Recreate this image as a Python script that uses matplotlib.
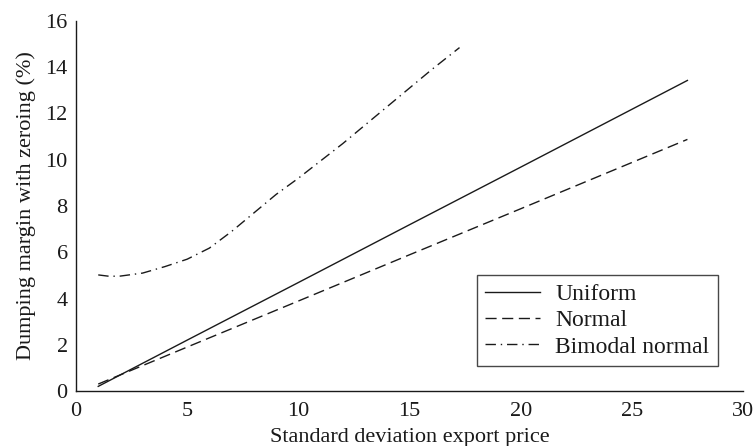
import matplotlib
matplotlib.use("Agg")
import matplotlib.pyplot as plt

plt.rcParams['font.family'] = ['Liberation Serif', 'DejaVu Serif']

# Data
sd_linear = [1, 5, 10, 15, 20, 25, 27.5]
uniform = [0.20, 2.20, 4.69, 7.19, 9.68, 12.18, 13.43]
normal = [0.30, 1.90, 3.89, 5.89, 7.88, 9.88, 10.88]

sd_bimodal = [1, 1.5, 2, 3, 4, 5, 6, 7, 8, 9, 10, 11, 12, 13, 14, 15, 16, 17.25]
bimodal = [5.02, 4.96, 4.97, 5.10, 5.38, 5.70, 6.18, 6.90, 7.70, 8.50,
           9.20, 9.95, 10.70, 11.50, 12.30, 13.10, 13.90, 14.85]

x_ticks = [0, 5, 10, 15, 20, 25, 30]
y_ticks = [0, 2, 4, 6, 8, 10, 12, 14, 16]

fig = plt.figure(figsize=(7.56, 4.46), dpi=100)
W, H = 756, 446
x0, x1, y0, y1 = 76, 743, 391, 21
ax = fig.add_axes([x0 / W, (H - y0) / H, (x1 - x0) / W, (y0 - y1) / H])

col = '#1a1a1a'
fs = 16
ax.plot(sd_linear, uniform, color=col, lw=1.0, linestyle='-', label='Uniform')
ax.plot(sd_linear, normal, color=col, lw=1.0, linestyle=(0, (8, 4)), label='Normal')
ax.plot(sd_bimodal, bimodal, color=col, lw=1.0, linestyle=(0, (7.5, 3.5, 1, 3.5)),
        label='Bimodal normal')

ax.set_xlim(0, 30)
ax.set_ylim(0, 16)
ax.set_xticks(x_ticks)
ax.set_yticks(y_ticks)
ax.tick_params(axis='both', length=0, labelsize=fs, colors=col)
ax.tick_params(axis='x', pad=8)
ax.tick_params(axis='y', pad=6)
for s in ['top', 'right']:
    ax.spines[s].set_visible(False)
for s in ['left', 'bottom']:
    ax.spines[s].set_linewidth(1.0)
    ax.spines[s].set_color(col)

ax.set_xlabel('Standard deviation export price', fontsize=fs, color=col, labelpad=5)
ax.set_ylabel('Dumping margin with zeroing (%)', fontsize=fs, color=col, labelpad=7)

leg_fs = 17
leg = ax.legend(loc='upper right', bbox_to_anchor=((718 - x0) / (x1 - x0), (y0 - 275) / (y0 - y1)),
                borderaxespad=0, fontsize=leg_fs, frameon=True, fancybox=False,
                handlelength=2.33, handletextpad=0.64, labelspacing=0.2, borderpad=0.36)
leg.get_frame().set_edgecolor(col)
leg.get_frame().set_linewidth(1.0)
for t in leg.get_texts():
    t.set_color(col)

fig.savefig('out.png', dpi=100)
